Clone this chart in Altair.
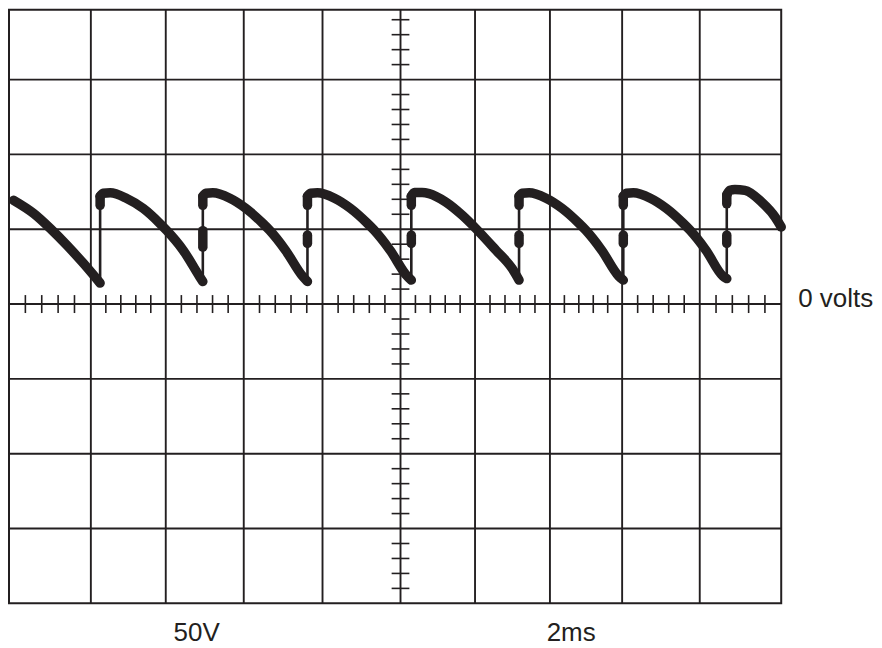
import altair as alt
import pandas as pd

# ---- screen / grid (time in ms, voltage in V) ----
T_MAX = 20.0                  # 10 divisions x 2 ms
V_MIN, V_TOP = -200.0, 196.67 # visible screen range
grid_t = [2.12, 4.06, 6.08, 8.12, 10.14, 12.07, 14.01, 15.88, 17.89]   # inner vertical lines
grid_v = [-150, -100, -50, 0, 50, 100, 150]                          # inner horizontal lines
center_t = 10.14

# ---- trace: one curve per cycle ----
curves_t = [
    [0.12, 0.64, 1.07, 1.50, 1.93, 2.36],
    [2.36, 2.44, 2.62, 3.05, 3.48, 3.91, 4.08, 4.51, 4.94, 5.02],
    [5.02, 5.10, 5.28, 5.72, 6.13, 6.57, 6.75, 7.16, 7.60, 7.73],
    [7.73, 7.81, 7.99, 8.43, 8.84, 9.28, 9.46, 9.87, 10.31, 10.42],
    [10.42, 10.50, 10.70, 10.88, 11.31, 11.74, 12.09, 12.61, 13.03, 13.21],
    [13.21, 13.29, 13.47, 13.91, 14.32, 14.76, 14.94, 15.35, 15.79, 15.91],
    [15.91, 15.99, 16.17, 16.61, 17.02, 17.46, 17.64, 18.05, 18.49, 18.59],
    [18.59, 18.67, 18.80, 19.06, 19.49, 19.84, 20.0],
]
curves_v = [
    [69.3, 60.5, 50.5, 39.3, 27.1, 14.0],
    [72, 74, 74.3, 70.5, 63.8, 53.8, 49.3, 36, 18.2, 15],
    [72, 74, 74.3, 70.7, 64, 54, 49.3, 36, 18.7, 15],
    [72, 74, 74.3, 70.7, 64, 54, 49.3, 36, 18.7, 16],
    [72, 74.5, 74.5, 73.8, 68.2, 59.3, 50.5, 36, 23.8, 16],
    [72, 74, 74.3, 70.7, 64, 54, 49.3, 36, 18.7, 16],
    [72, 74, 74.3, 70.7, 64, 54, 49.3, 36, 18.7, 17],
    [73, 76, 76.5, 76, 68.2, 58.2, 51.5],
]

# ---- vertical transitions ----
jump_t = [2.36, 5.02, 7.73, 10.42, 13.21, 15.91, 18.59]
jump_low = [14, 15, 15, 16, 16, 16, 17]
jump_high = [72, 72, 72, 72, 72, 72, 73]
cap_low = [66, 66, 66, 66, 66, 66, 67]
bead_low = [None, 38, 40.5, 40.5, 40.5, 40.5, 40.5]
bead_high = [None, 49, 46, 46, 46, 46, 46]

# ---- labels ----
label_text = ["0 volts", "50V", "2ms"]
label_t = [20.44, 4.86, 14.56]
label_v = [-2.2, -225.1, -225.1]
label_align = ["left", "center", "center"]

INK = "#231f20"
W, H = 774, 595
TRACE_W = 9.5

xsc = alt.Scale(domain=[0, T_MAX], nice=False, zero=False)
ysc = alt.Scale(domain=[V_MIN, V_TOP], nice=False, zero=False)

def X(f="t"):
    return alt.X(f"{f}:Q", scale=xsc, axis=None)

def Y(f="v"):
    return alt.Y(f"{f}:Q", scale=ysc, axis=None)

# grid
vgrid = alt.Chart(pd.DataFrame({"t": grid_t})).mark_rule(color=INK, strokeWidth=1.9).encode(x=X())
hgrid = alt.Chart(pd.DataFrame({"v": grid_v})).mark_rule(color=INK, strokeWidth=1.9).encode(y=Y())

# minor ticks on the zero line (fifths of each division)
edges = [0.0] + grid_t + [T_MAX]
tick_t = []
for a, b in zip(edges[:-1], edges[1:]):
    for k in range(1, 5):
        tick_t.append(a + (b - a) * k / 5)
hticks = alt.Chart(pd.DataFrame({"t": tick_t, "v1": -6.0, "v2": 6.0})).mark_rule(
    color=INK, strokeWidth=1.6).encode(x=X(), y=Y("v1"), y2="v2:Q")

# minor ticks on the centre vertical line
tick_v = [v for v in range(-190, 200, 10) if v % 50 != 0]
vticks = alt.Chart(pd.DataFrame({"v": tick_v, "t1": center_t - 0.23, "t2": center_t + 0.23})).mark_rule(
    color=INK, strokeWidth=1.6).encode(y=Y(), x=X("t1"), x2="t2:Q")

# trace curves
rows = []
for i, (ts, vs) in enumerate(zip(curves_t, curves_v)):
    for j, (t, v) in enumerate(zip(ts, vs)):
        rows.append({"t": t, "v": v, "seg": i, "o": j})
trace = alt.Chart(pd.DataFrame(rows)).mark_line(
    color=INK, strokeWidth=TRACE_W, strokeCap="round", strokeJoin="round", interpolate="monotone"
).encode(x=X(), y=Y(), detail="seg:N", order="o:Q")

# thin jumps
jumps = alt.Chart(pd.DataFrame({"t": jump_t, "v1": jump_low, "v2": jump_high})).mark_rule(
    color=INK, strokeWidth=2.6).encode(x=X(), y=Y("v1"), y2="v2:Q")

# thick caps at top of each jump
caps = alt.Chart(pd.DataFrame({"t": jump_t, "v1": cap_low, "v2": jump_high})).mark_rule(
    color=INK, strokeWidth=TRACE_W, strokeCap="round").encode(x=X(), y=Y("v1"), y2="v2:Q")

# thick beads mid-jump
bead_df = pd.DataFrame({"t": jump_t, "v1": bead_low, "v2": bead_high}).dropna()
beads = alt.Chart(bead_df).mark_rule(
    color=INK, strokeWidth=TRACE_W, strokeCap="round").encode(x=X(), y=Y("v1"), y2="v2:Q")

# labels
lab_df = pd.DataFrame({"text": label_text, "t": label_t, "v": label_v, "align": label_align})
lab_left = alt.Chart(lab_df[lab_df["align"] == "left"]).mark_text(
    align="left", baseline="alphabetic", font="Liberation Sans", fontSize=26, color=INK
).encode(x=X(), y=Y(), text="text:N")
lab_center = alt.Chart(lab_df[lab_df["align"] == "center"]).mark_text(
    align="center", baseline="alphabetic", font="Liberation Sans", fontSize=26, color=INK
).encode(x=X(), y=Y(), text="text:N")

chart = alt.layer(
    vgrid, hgrid, hticks, vticks, jumps, caps, beads, trace, lab_left, lab_center
).properties(
    width=W, height=H,
    autosize=alt.AutoSizeParams(type="none"),
    padding={"left": 1, "top": 1, "right": 93, "bottom": 42},
    background="white",
).configure_view(stroke=INK, strokeWidth=2)

chart.save("out.html", embed_options={"renderer": "svg", "actions": False})
